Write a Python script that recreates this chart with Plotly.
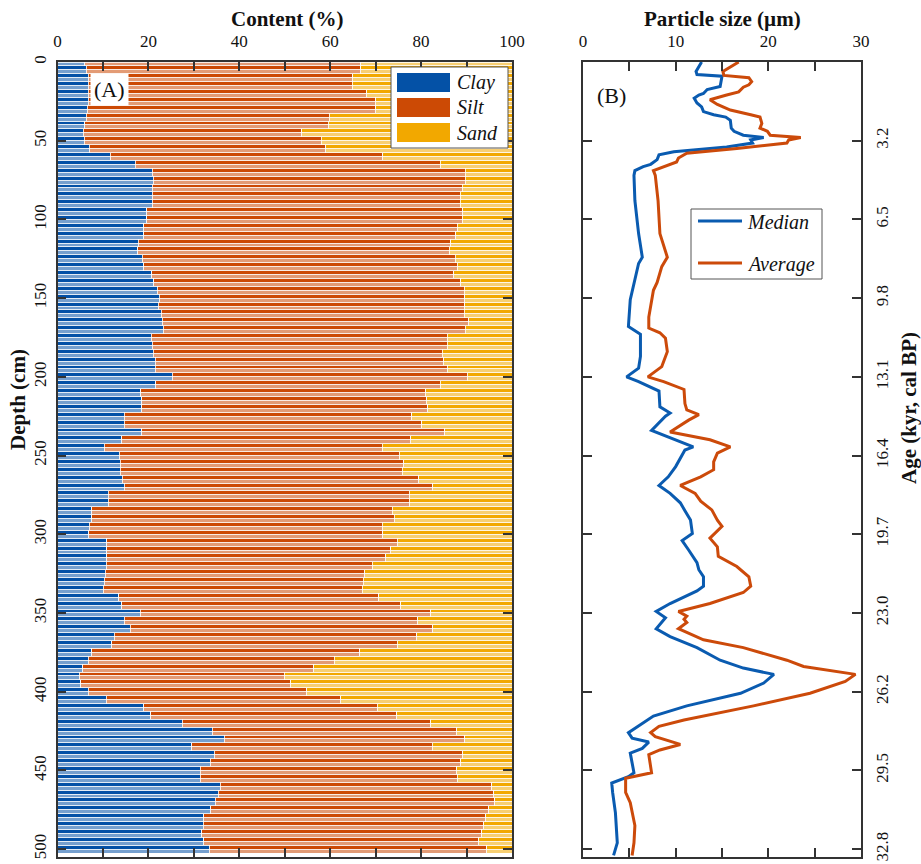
import plotly.graph_objects as go

W, H = 921, 864

# ---------------- Panel A data (grain-size fractions, %) ----------------
depth_cm = [0, 5, 10, 15, 20, 25, 30, 35, 40, 45, 50, 55, 60, 65, 70, 75, 80, 85, 90, 95,
            100, 105, 110, 115, 120, 125, 130, 135, 140, 145, 150, 155, 160, 165, 170, 175, 180, 185, 190, 195,
            200, 205, 210, 215, 220, 225, 230, 235, 240, 245, 250, 255, 260, 265, 270, 275, 280, 285, 290, 295,
            300, 305, 310, 315, 320, 325, 330, 335, 340, 345, 350, 355, 360, 365, 370, 375, 380, 385, 390, 395,
            400, 405, 410, 415, 420, 425, 430, 435, 440, 445, 450, 455, 460, 465, 470, 475, 480, 485, 490, 495,
            500]
clay_pct = [6.0, 6.3, 6.8, 6.8, 6.8, 6.8, 6.5, 6.3, 6.0, 5.7, 5.9, 7.0, 11.6, 17.1, 20.9, 21.1, 20.9, 20.9, 20.9, 19.6,
            19.6, 19.0, 19.0, 17.8, 17.7, 18.7, 19.0, 20.7, 21.2, 22.0, 22.4, 22.2, 22.8, 23.1, 23.3, 20.6, 20.9, 21.1, 21.5, 21.5,
            25.3, 21.6, 18.3, 18.5, 18.5, 14.7, 14.7, 18.5, 14.1, 10.3, 13.6, 13.8, 13.8, 14.3, 14.7, 11.2, 11.2, 7.5, 7.5, 7.0,
            6.9, 10.8, 10.8, 10.8, 10.7, 10.5, 10.3, 10.1, 13.5, 14.1, 18.2, 14.7, 16.0, 12.5, 11.9, 7.5, 6.8, 5.5, 4.8, 5.1,
            6.8, 10.7, 19.0, 20.5, 27.5, 34.0, 36.7, 29.5, 34.5, 33.6, 31.4, 31.4, 35.8, 35.4, 34.7, 33.7, 32.2, 32.1, 31.7, 32.2,
            33.4]
silt_pct = [60.7, 60.4, 58.2, 58.0, 61.2, 63.2, 63.5, 53.5, 53.6, 48.0, 52.1, 52.0, 60.0, 67.1, 68.8, 68.6, 68.1, 67.7, 67.7, 69.6,
            69.4, 68.9, 68.6, 68.7, 68.5, 68.8, 68.9, 66.5, 67.5, 67.5, 67.2, 67.4, 66.7, 67.4, 66.4, 65.1, 64.8, 63.5, 63.5, 64.2,
            64.9, 62.6, 62.7, 62.7, 63.0, 63.2, 65.4, 66.7, 63.6, 61.1, 61.6, 62.4, 62.1, 65.2, 67.9, 66.2, 66.2, 66.1, 66.6, 64.5,
            64.7, 63.9, 62.5, 61.4, 58.6, 57.1, 57.0, 57.0, 57.2, 61.4, 63.9, 64.6, 66.6, 66.5, 62.8, 59.0, 54.1, 50.9, 45.1, 46.2,
            48.0, 51.6, 51.4, 54.1, 54.6, 53.8, 52.9, 52.9, 54.7, 55.1, 56.4, 56.6, 59.7, 60.6, 61.5, 61.2, 62.0, 61.7, 61.6, 60.5,
            61.0]
sand_pct = [33.3, 33.3, 35.0, 35.2, 32.0, 30.0, 30.0, 40.2, 40.4, 46.3, 42.0, 41.0, 28.4, 15.8, 10.3, 10.3, 11.0, 11.4, 11.4, 10.8,
            11.0, 12.1, 12.4, 13.5, 13.8, 12.5, 12.1, 12.8, 11.3, 10.5, 10.4, 10.4, 10.5, 9.5, 10.3, 14.3, 14.3, 15.4, 15.0, 14.3,
            9.8, 15.8, 19.0, 18.8, 18.5, 22.1, 19.9, 14.8, 22.3, 28.6, 24.8, 23.8, 24.1, 20.5, 17.4, 22.6, 22.6, 26.4, 25.9, 28.5,
            28.4, 25.3, 26.7, 27.8, 30.7, 32.4, 32.7, 32.9, 29.3, 24.5, 17.9, 20.7, 17.4, 21.0, 25.3, 33.5, 39.1, 43.6, 50.1, 48.7,
            45.2, 37.7, 29.6, 25.4, 17.9, 12.2, 10.4, 17.6, 10.8, 11.3, 12.2, 12.0, 4.5, 4.0, 3.8, 5.1, 5.8, 6.2, 6.7, 7.3,
            5.6]

# ---------------- Panel B data (particle size, µm) ----------------
median_depth = [0, 3, 6, 8, 9, 15.5, 17.5, 20, 21, 23, 26, 28.5, 31.5, 33.5, 35, 37, 42, 44, 46.5, 48,
                49.5, 51.5, 54, 57, 59, 62, 65, 66.5, 69, 72, 88, 109, 124, 128, 145, 151, 168, 173, 187, 194.5,
                200, 203, 209, 219, 223, 225, 234, 238, 244.5, 246.5, 257, 263.5, 269, 274, 280, 285, 291, 299.5, 304, 310,
                318, 322.5, 327, 333, 336, 344, 349, 353, 360, 365, 372, 380, 385, 389, 394.5, 401, 409, 415.5, 422, 426,
                429.5, 432, 436, 439, 451.5, 454, 458, 464, 477, 496, 504]
median_um = [12.8, 12.5, 12.2, 12.3, 15.0, 14.8, 13.4, 13.0, 12.5, 12.0, 12.3, 12.8, 13.0, 14.1, 15.4, 15.9, 16.0, 16.3, 17.3, 19.5,
             18.1, 18.3, 15.5, 9.8, 8.2, 8.0, 7.3, 6.5, 5.6, 5.5, 5.6, 6.0, 6.4, 6.0, 5.3, 5.1, 4.9, 6.2, 6.2, 6.0,
             4.7, 6.0, 8.2, 8.3, 9.4, 8.9, 7.4, 9.1, 11.9, 11.0, 10.0, 9.2, 8.2, 9.4, 10.5, 11.0, 11.6, 11.8, 10.7, 11.4,
             12.3, 12.5, 13.0, 13.0, 12.3, 9.4, 7.9, 8.9, 7.9, 9.4, 12.3, 14.8, 17.3, 20.6, 19.5, 17.0, 11.2, 7.6, 6.0, 4.9,
             5.3, 7.1, 6.4, 5.1, 5.5, 4.9, 3.1, 3.2, 3.5, 3.7, 3.3]
average_depth = [0, 3, 6, 8.5, 10, 12.5, 14.5, 16, 19, 21, 24, 27, 30.5, 33.5, 35, 39, 42, 44, 46.5, 48,
                 49.5, 51.5, 55, 58, 61, 63.5, 66.5, 69, 72, 88, 109, 124, 130, 140, 145, 162, 169, 172, 175.5, 184,
                 193.5, 200, 203, 208, 217, 221, 224, 227.5, 235, 240, 244.5, 248.5, 254, 259, 263.5, 269, 274, 279, 284.5, 291,
                 295, 302.5, 308, 314, 320.5, 324, 327, 333, 337, 344, 349, 352, 354, 356, 360, 367, 372, 380, 384, 389,
                 393.5, 401, 409, 418, 422, 426, 428.5, 433.5, 437, 440, 451.5, 455, 464, 470.5, 485, 496, 504]
average_um = [16.8, 15.9, 15.1, 15.2, 17.9, 18.2, 17.9, 17.3, 16.8, 15.5, 13.7, 14.5, 15.9, 18.1, 19.1, 19.3, 19.1, 19.9, 20.2, 23.5,
              22.2, 22.0, 16.6, 11.2, 10.3, 10.1, 8.7, 7.6, 7.8, 8.1, 8.3, 9.1, 8.5, 8.0, 7.6, 7.1, 7.1, 8.3, 8.9, 9.1,
              8.5, 7.0, 8.7, 10.9, 11.0, 11.2, 12.5, 11.4, 9.4, 13.7, 15.9, 14.5, 14.1, 14.1, 12.7, 10.5, 12.1, 12.7, 13.9, 14.5,
              15.0, 13.7, 14.5, 14.6, 16.6, 17.3, 17.9, 18.1, 17.3, 13.7, 10.3, 11.2, 10.9, 11.2, 10.3, 13.0, 17.3, 22.0, 23.8, 29.4,
              28.3, 24.5, 18.4, 10.9, 8.2, 7.3, 7.8, 10.5, 8.3, 7.1, 7.4, 4.6, 4.6, 5.1, 5.6, 5.5, 5.3]

# ---------------- Tick labels ----------------
content_ticks = [0, 10, 20, 30, 40, 50, 60, 70, 80, 90, 100]
content_ticktext = ["0", "", "20", "", "40", "", "60", "", "80", "", "100"]
depth_ticks = [0, 50, 100, 150, 200, 250, 300, 350, 400, 450, 500]
size_ticks = [0, 5, 10, 15, 20, 25, 30]
size_ticktext = ["0", "", "10", "", "20", "", "30"]
age_tick_depths = [50, 100, 150, 200, 250, 300, 350, 400, 450, 500]
age_tick_labels = ["3.2", "6.5", "9.8", "13.1", "16.4", "19.7", "23.0", "26.2", "29.5", "32.8"]

CLAY_C, SILT_C, SAND_C = "#0451A6", "#CC4A05", "#F2A800"
MED_C, AVG_C = "#0A5BB0", "#CC4A0A"
SERIF = "Liberation Serif"
AX_C = "#333333"


def px(x):
    return x / W


def py(y):
    return 1 - y / H


fig = go.Figure()

# stacked horizontal bars; each sample drawn as a solid upper half and a paler lower half
for shift, op in [(-1.25, 1.0), (1.25, 0.55)]:
    ys = [d + shift for d in depth_cm]
    for name, vals, col in [("Clay", clay_pct, CLAY_C), ("Silt", silt_pct, SILT_C), ("Sand", sand_pct, SAND_C)]:
        fig.add_trace(go.Bar(
            y=ys, x=vals, orientation="h", width=2.5, name=name,
            marker=dict(color=col, line=dict(color="white", width=0.8)),
            opacity=op, showlegend=False, xaxis="x", yaxis="y"))

fig.add_trace(go.Scatter(x=median_um, y=median_depth, mode="lines", name="Median",
                         line=dict(color=MED_C, width=3), showlegend=False, xaxis="x2", yaxis="y2"))
fig.add_trace(go.Scatter(x=average_um, y=average_depth, mode="lines", name="Average",
                         line=dict(color=AVG_C, width=3), showlegend=False, xaxis="x2", yaxis="y2"))

y_dom = [py(857), py(62)]
common_ax = dict(showline=True, linecolor=AX_C, linewidth=1.5, mirror="ticks", ticks="inside",
                 ticklen=9, tickwidth=1.5, tickcolor=AX_C, showgrid=False, zeroline=False,
                 tickfont=dict(family=SERIF, size=17, color="#111"), automargin=False)

fig.update_layout(
    width=W, height=H, template="none",
    margin=dict(l=0, r=0, t=0, b=0),
    paper_bgcolor="white", plot_bgcolor="white",
    barmode="stack", showlegend=False,
    xaxis=dict(domain=[px(57.5), px(512)], range=[0, 100], side="top", anchor="y",
               tickmode="array", tickvals=content_ticks, ticktext=content_ticktext,
               ticklabelstandoff=6, **common_ax),
    yaxis=dict(domain=y_dom, range=[505, 0], anchor="x", side="left",
               tickmode="array", tickvals=depth_ticks, tickangle=-90,
               ticklabelstandoff=3, **common_ax),
    xaxis2=dict(domain=[px(583), px(861)], range=[0, 30], side="top", anchor="y2",
                tickmode="array", tickvals=size_ticks, ticktext=size_ticktext,
                ticklabelstandoff=6, **common_ax),
    yaxis2=dict(domain=y_dom, range=[505, 0], anchor="x2", side="right",
                tickmode="array", tickvals=age_tick_depths, ticktext=age_tick_labels, tickangle=-90,
                ticklabelstandoff=5, **common_ax),
)

title_font = dict(family=SERIF, size=21, color="#111")
ann = [
    dict(text="<b>Content (%)</b>", x=px(287), y=py(19), textangle=0),
    dict(text="<b>Particle size (µm)</b>", x=px(722), y=py(19), textangle=0),
    dict(text="<b>Depth (cm)</b>", x=px(18), y=py(400), textangle=-90),
    dict(text="<b>Age (kyr, cal BP)</b>", x=px(909), y=py(408), textangle=-90),
]
for a in ann:
    fig.add_annotation(xref="paper", yref="paper", showarrow=False, xanchor="center", yanchor="middle",
                       font=title_font, **a)

fig.add_annotation(xref="paper", yref="paper", x=px(109), y=py(90), text="(A)", showarrow=False,
                   font=dict(family=SERIF, size=22, color="#111"), bgcolor="white", borderpad=3,
                   xanchor="center", yanchor="middle")
fig.add_annotation(xref="paper", yref="paper", x=px(611), y=py(95), text="(B)", showarrow=False,
                   font=dict(family=SERIF, size=22, color="#111"), xanchor="center", yanchor="middle")

# legend of panel A
fig.add_shape(type="rect", xref="paper", yref="paper", x0=px(391), x1=px(508), y0=py(148), y1=py(67),
              line=dict(color="#555", width=1), fillcolor="white", layer="above")
for name, col, yc in [("Clay", CLAY_C, 82.5), ("Silt", SILT_C, 107.5), ("Sand", SAND_C, 132.5)]:
    fig.add_shape(type="rect", xref="paper", yref="paper", x0=px(397), x1=px(450),
                  y0=py(yc + 9.5), y1=py(yc - 9.5), line=dict(width=0), fillcolor=col, layer="above")
    fig.add_annotation(xref="paper", yref="paper", x=px(455), y=py(yc), text=f"<i>{name}</i>",
                       showarrow=False, xanchor="left", yanchor="middle",
                       font=dict(family=SERIF, size=20, color="#111"))

# legend of panel B
fig.add_shape(type="rect", xref="paper", yref="paper", x0=px(691), x1=px(822), y0=py(279), y1=py(209),
              line=dict(color="#555", width=1), fillcolor="white", layer="above")
for name, col, yc in [("Median", MED_C, 221), ("Average", AVG_C, 263)]:
    fig.add_shape(type="line", xref="paper", yref="paper", x0=px(698), x1=px(742), y0=py(yc), y1=py(yc),
                  line=dict(color=col, width=3), layer="above")
    fig.add_annotation(xref="paper", yref="paper", x=px(745), y=py(yc + 1), text=f"<i>{name}</i>",
                       showarrow=False, xanchor="left", yanchor="middle",
                       font=dict(family=SERIF, size=20, color="#111"))

fig.write_html("out.html")
